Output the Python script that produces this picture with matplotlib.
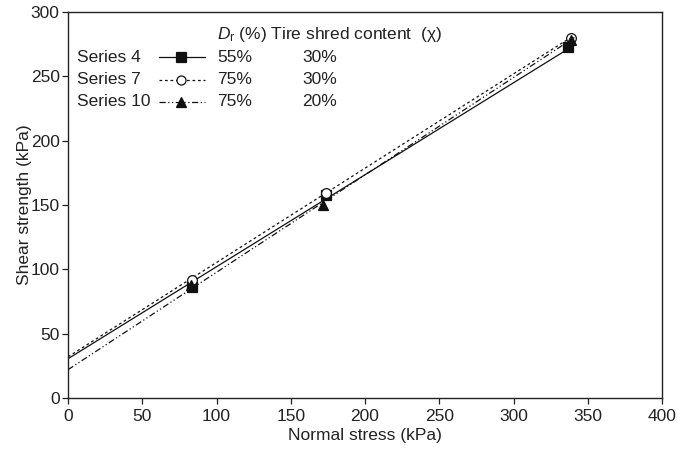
"""
Shear strength vs normal stress for three tire shred series.
"""

import numpy as np
import matplotlib
matplotlib.use("Agg")
import matplotlib.pyplot as plt

plt.rcParams["font.family"] = ["Liberation Sans", "DejaVu Sans"]
plt.rcParams["mathtext.fontset"] = "custom"
plt.rcParams["mathtext.rm"] = "Liberation Sans"
plt.rcParams["mathtext.it"] = "Liberation Sans:italic"

#######################################################
# DATA

series_names = ["Series 4", "Series 7", "Series 10"]
dr_labels = ["55%", "75%", "75%"]
chi_labels = ["30%", "30%", "20%"]

normal_stress = [
    [83.5, 173.5, 337.0],
    [83.5, 173.5, 338.5],
    [83.0, 172.0, 338.5],
]
shear_strength = [
    [86.0, 158.0, 272.5],
    [92.0, 159.5, 280.0],
    [88.0, 150.0, 278.5],
]

# fitted failure envelopes (intercept, slope) and their end stress
fit_intercept = [30.5, 32.0, 22.0]
fit_slope = [0.715, 0.733, 0.757]
fit_end = [340.0, 341.0, 341.0]

markers = ["s", "o", "^"]
facecolors = ["#111111", "white", "#111111"]
linestyles = ["-", (0, (2.2, 2.2)), (0, (5, 2, 1, 2, 1, 2))]

FS = 12.5

#######################################################
# PLOT

fig = plt.figure(figsize=(6.9, 4.53), dpi=100)
ax = fig.add_axes([68 / 690, 1 - 398 / 453, 594 / 690, 386 / 453])

for i in range(3):
    xs = np.array([0.0, fit_end[i]])
    ax.plot(
        xs,
        fit_intercept[i] + fit_slope[i] * xs,
        color="#111111",
        linewidth=0.9,
        linestyle=linestyles[i],
    )
    ax.plot(
        normal_stress[i],
        shear_strength[i],
        linestyle="none",
        marker=markers[i],
        markersize=7,
        markerfacecolor=facecolors[i],
        markeredgecolor="#111111",
        markeredgewidth=0.9,
    )

ax.set_xlim(0, 400)
ax.set_ylim(0, 300)
ax.set_xticks(range(0, 401, 50))
ax.set_yticks(range(0, 301, 50))
ax.tick_params(
    direction="out",
    length=4,
    width=0.9,
    labelsize=FS,
    colors="#222222",
    pad=3,
)
ax.tick_params(axis="y", pad=2)
ax.tick_params(axis="x", pad=4)
for side in ["left", "right", "top", "bottom"]:
    ax.spines[side].set_linewidth(1.0)
    ax.spines[side].set_color("#222222")

ax.set_xlabel("Normal stress (kPa)", fontsize=FS, color="#222222", labelpad=3)
ax.set_ylabel("Shear strength (kPa)", fontsize=FS, color="#222222", labelpad=-1)

#######################################################
# LEGEND (hand-built table)

def fx(px):
    return (px - 68) / 594

def fy(py):
    return (398 - py) / 386

tr = ax.transAxes

ax.text(
    fx(217), fy(34),
    r"$D_\mathrm{r}$ (%) Tire shred content  (χ)",
    transform=tr, fontsize=FS, color="#222222", va="center", ha="left",
)

row_y = [57, 80, 102]
for i in range(3):
    y = fy(row_y[i])
    ax.text(fx(77), y, series_names[i], transform=tr, fontsize=FS,
            color="#222222", va="center", ha="left")
    ax.plot([fx(159), fx(205)], [y, y], transform=tr, color="#111111",
            linewidth=0.9, linestyle=linestyles[i], clip_on=False)
    ax.plot([fx(181)], [y], transform=tr, linestyle="none",
            marker=markers[i], markersize=6.5, markerfacecolor=facecolors[i],
            markeredgecolor="#111111", markeredgewidth=0.9, clip_on=False)
    ax.text(fx(217), y, dr_labels[i], transform=tr, fontsize=FS,
            color="#222222", va="center", ha="left")
    ax.text(fx(302), y, chi_labels[i], transform=tr, fontsize=FS,
            color="#222222", va="center", ha="left")

plt.savefig("out.png", dpi=100)
plt.close()
